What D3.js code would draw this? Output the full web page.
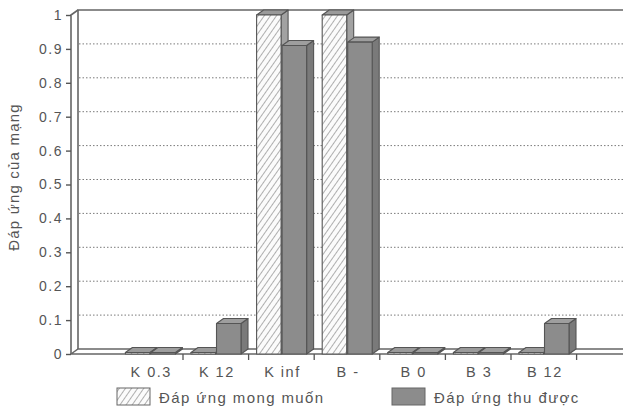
<!DOCTYPE html>
<html>
<head>
<meta charset="utf-8">
<script src="https://cdn.jsdelivr.net/npm/d3@7/dist/d3.min.js"></script>
<style>
  html, body { margin: 0; padding: 0; background: #ffffff; }
  svg { display: block; }
  text { font-family: "Liberation Sans", Arial, sans-serif; fill: #555; }
</style>
</head>
<body>
<script>
// Network response per test pattern
const categories = ["K 0.3", "K 12", "K inf", "B -", "B 0", "B 3", "B 12"];
const desired = [0, 0, 1, 1, 0, 0, 0];
const obtained = [0, 0.09, 0.91, 0.92, 0, 0, 0.09];
const seriesNames = ["Đáp ứng mong muốn", "Đáp ứng thu được"];
const yTickValues = [0, 0.1, 0.2, 0.3, 0.4, 0.5, 0.6, 0.7, 0.8, 0.9, 1];
const yTickLabels = ["0", "0.1", "0.2", "0.3", "0.4", "0.5", "0.6", "0.7", "0.8", "0.9", "1"];
const yTitle = "Đáp ứng của mạng";

const W = 623, H = 412;
const DX = 7, DY = 5;           // depth of the 3D box
const axisX = 71;               // front edge of the left wall
const wallRight = 640;          // box runs past the right edge

const svg = d3.select("body").append("svg").attr("width", W).attr("height", H);

const y = d3.scaleLinear().domain([0, 1]).range([354, 15]);
const x = d3.scaleBand().domain(categories).range([117.4, 576.6]).padding(0);
const sub = d3.scaleBand().domain([0, 1]).range([8, 58]).paddingInner(0.04);

// patterns
const defs = svg.append("defs");
const hatch = defs.append("pattern").attr("id", "hatch")
  .attr("patternUnits", "userSpaceOnUse").attr("width", 5).attr("height", 5)
  .attr("patternTransform", "rotate(35)");
hatch.append("rect").attr("width", 5).attr("height", 5).attr("fill", "#fbfbfb");
hatch.append("line").attr("x1", 0).attr("y1", 0).attr("x2", 0).attr("y2", 5)
  .attr("stroke", "#707070").attr("stroke-width", 1.1);

const y0 = y(0);

// back wall and left wall
svg.append("path")
  .attr("d", `M${axisX + DX},${y0 - DY}V${y(1) - DY}H${wallRight}`)
  .attr("fill", "none").attr("stroke", "#666").attr("stroke-width", 1.6);
svg.append("path")
  .attr("d", `M${axisX},${y0}V${y(1)}L${axisX + DX},${y(1) - DY}`)
  .attr("fill", "none").attr("stroke", "#666").attr("stroke-width", 1.6);

// dotted grid on the back wall
svg.append("g").selectAll("line")
  .data(yTickValues.filter(v => v > 0 && v < 1))
  .join("line")
  .attr("x1", axisX + DX + 1).attr("x2", wallRight)
  .attr("y1", d => y(d) - DY).attr("y2", d => y(d) - DY)
  .attr("stroke", "#7a7a7a").attr("stroke-width", 1)
  .attr("stroke-dasharray", "1.5,2");

// floor
svg.append("path")
  .attr("d", `M${axisX},${y0}L${axisX + DX},${y0 - DY}H${wallRight}V${y0}Z`)
  .attr("fill", "#ffffff").attr("stroke", "#666").attr("stroke-width", 1.5);

// bars as 3D boxes
const series = [
  { values: desired, front: "url(#hatch)", top: "#9a9a9a", side: "#a2a2a2" },
  { values: obtained, front: "#8c8c8c", top: "#9e9e9e", side: "#7a7a7a" }
];

const barGroup = svg.append("g");
categories.forEach((c, i) => {
  series.forEach((s, k) => {
    const v = s.values[i];
    const bx = x(c) + sub(k);
    const bw = sub.bandwidth();
    const yt = v > 0 ? y(v) : y0 - 1.5;
    const g = barGroup.append("g").attr("stroke", "#555").attr("stroke-width", 1.1)
      .attr("stroke-linejoin", "round");
    // side face
    g.append("path")
      .attr("d", `M${bx + bw},${yt}L${bx + bw + DX},${yt - DY}V${y0 - DY}L${bx + bw},${y0}Z`)
      .attr("fill", s.side);
    // top face
    g.append("path")
      .attr("d", `M${bx},${yt}L${bx + DX},${yt - DY}H${bx + bw + DX}L${bx + bw},${yt}Z`)
      .attr("fill", s.top);
    // front face
    g.append("rect")
      .attr("x", bx).attr("y", yt).attr("width", bw).attr("height", y0 - yt)
      .attr("fill", s.front);
  });
});

// y axis
const yAxis = d3.axisLeft(y).tickValues(yTickValues)
  .tickFormat((d, i) => yTickLabels[i]).tickSize(5).tickPadding(3);
const yg = svg.append("g").attr("transform", `translate(${axisX},0)`).call(yAxis);
yg.select(".domain").remove();
yg.selectAll(".tick line").attr("stroke", "#555").attr("stroke-width", 1.4);
yg.selectAll(".tick text").attr("fill", "#555")
  .style("font-family", "'Liberation Sans', Arial, sans-serif")
  .style("font-size", "14px").style("letter-spacing", "1.5px");

// x axis: labels at band centres, ticks on band boundaries
const xg = svg.append("g").attr("transform", `translate(0,${y0})`);
xg.selectAll("line.tick")
  .data(categories.slice(1).map(c => x(c)).concat([x(categories[categories.length - 1]) + x.bandwidth()]))
  .join("line").attr("class", "tick")
  .attr("x1", d => d).attr("x2", d => d).attr("y1", 0).attr("y2", 6)
  .attr("stroke", "#555").attr("stroke-width", 1.3);
xg.selectAll("text")
  .data(categories)
  .join("text")
  .attr("x", c => x(c) + x.bandwidth() / 2 + 1)
  .attr("y", 23)
  .attr("text-anchor", "middle")
  .style("font-size", "14.5px").style("letter-spacing", "1.5px")
  .text(c => c);

// y axis title
svg.append("text")
  .attr("transform", `translate(19,177) rotate(-90)`)
  .attr("text-anchor", "middle")
  .style("font-size", "15px").style("letter-spacing", "1.2px")
  .text(yTitle);

// legend
const legendX = [117, 392];
const lg = svg.append("g");
series.forEach((s, k) => {
  lg.append("rect")
    .attr("x", legendX[k]).attr("y", 388).attr("width", 33).attr("height", 17)
    .attr("fill", s.front).attr("stroke", "#666").attr("stroke-width", 1);
  lg.append("text")
    .attr("x", legendX[k] + 42).attr("y", 402.5)
    .style("font-size", "15px").style("letter-spacing", "1.4px")
    .text(seriesNames[k]);
});
</script>
</body>
</html>
